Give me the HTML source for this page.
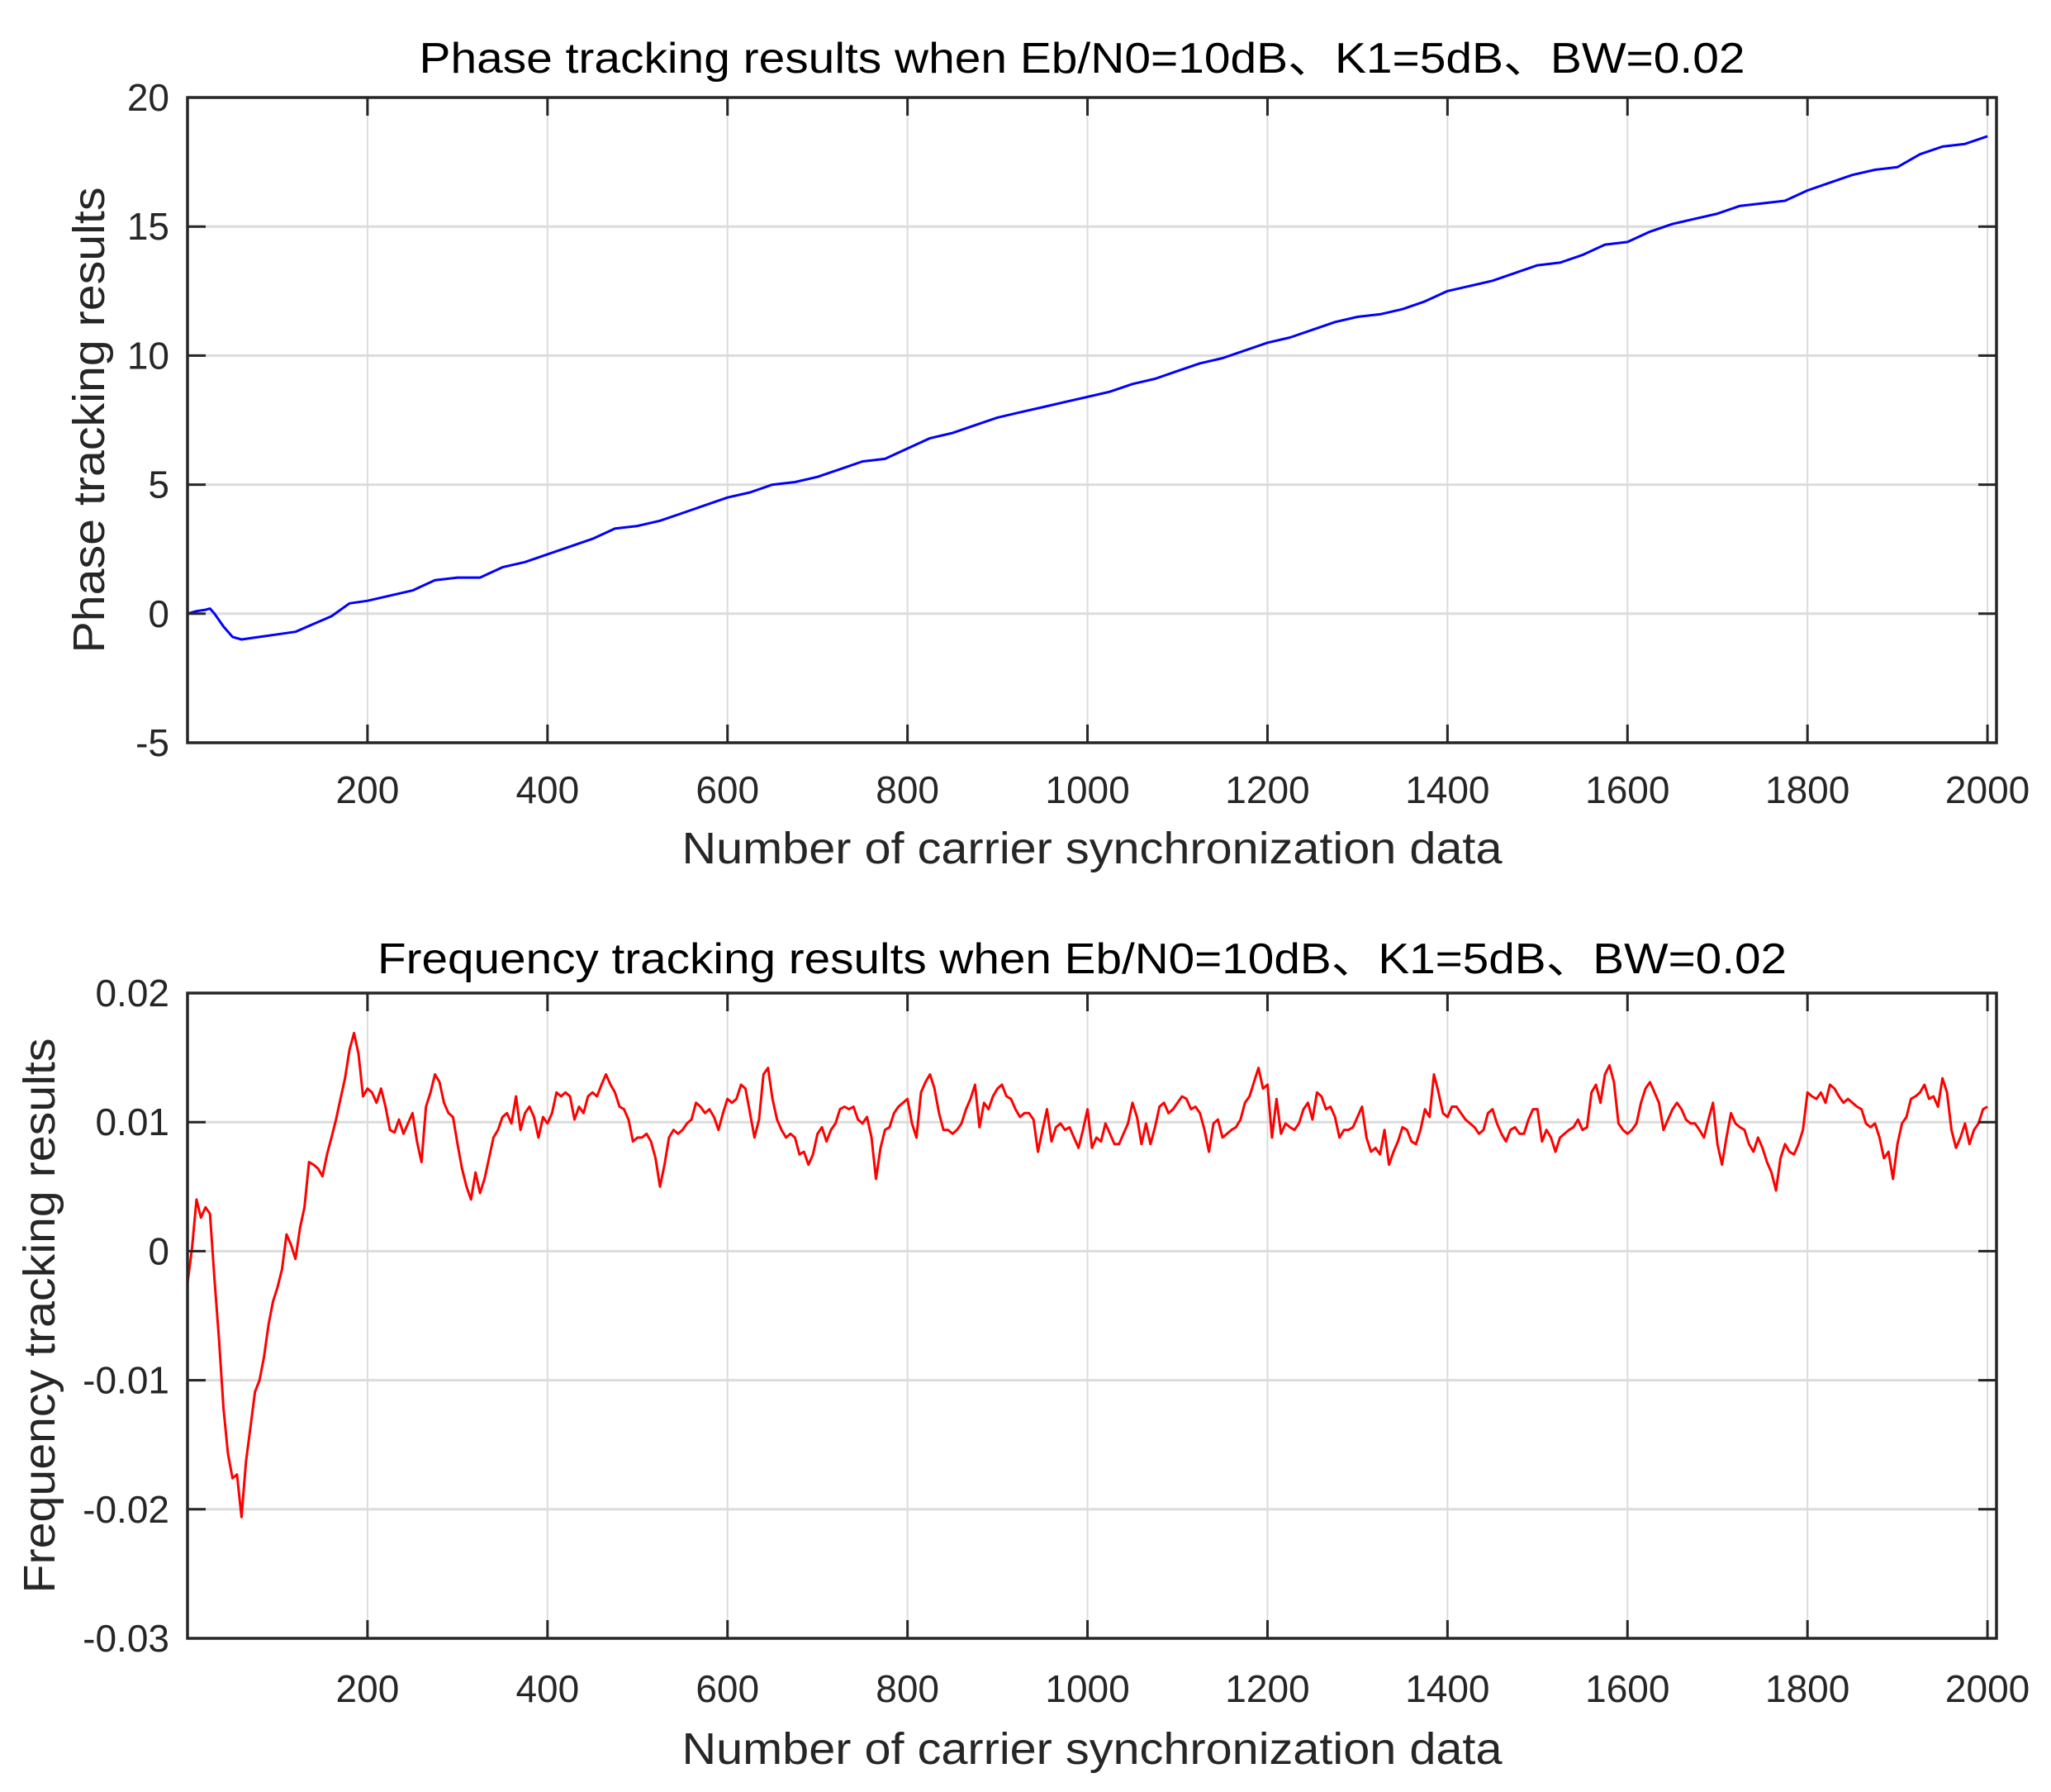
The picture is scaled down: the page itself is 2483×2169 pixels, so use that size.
<!DOCTYPE html>
<html><head><meta charset="utf-8"><style>
html,body{margin:0;padding:0;background:#fff;}
svg{display:block;font-family:"Liberation Sans","Noto Sans CJK SC",sans-serif;}
</style></head><body>
<svg id="fig" width="2483" height="2169" viewBox="0 0 2483 2169" xmlns="http://www.w3.org/2000/svg">
<rect width="2483" height="2169" fill="#fff"/>
<g id="top"></g>
<g id="bot"></g>
</svg>
<script>
const xTicks=[200,400,600,800,1000,1200,1400,1600,1800,2000];
const phaseTicks=[-5,0,5,10,15,20];
const phaseTickLabels=["-5","0","5","10","15","20"];
const freqTicks=[-0.03,-0.02,-0.01,0,0.01,0.02];
const freqTickLabels=["-0.03","-0.02","-0.01","0","0.01","0.02"];
const phaseX=[0,10,20,25,30,40,50,60,80,100,120,140,160,180,200,225,250,275,300,325,350,375,400,425,450,475,500,525,550,575,600,625,650,675,700,725,750,775,800,825,850,875,900,925,950,975,1000,1025,1050,1075,1100,1125,1150,1175,1200,1225,1250,1275,1300,1325,1350,1375,1400,1425,1450,1475,1500,1525,1550,1575,1600,1625,1650,1675,1700,1725,1750,1775,1800,1825,1850,1875,1900,1925,1950,1975,2000];
const phaseY=[0,0.1,0.15,0.2,0,-0.5,-0.9,-1.0,-0.9,-0.8,-0.7,-0.4,-0.1,0.4,0.5,0.7,0.9,1.3,1.4,1.4,1.8,2.0,2.3,2.6,2.9,3.3,3.4,3.6,3.9,4.2,4.5,4.7,5.0,5.1,5.3,5.6,5.9,6.0,6.4,6.8,7.0,7.3,7.6,7.8,8.0,8.2,8.4,8.6,8.9,9.1,9.4,9.7,9.9,10.2,10.5,10.7,11.0,11.3,11.5,11.6,11.8,12.1,12.5,12.7,12.9,13.2,13.5,13.6,13.9,14.3,14.4,14.8,15.1,15.3,15.5,15.8,15.9,16.0,16.4,16.7,17.0,17.2,17.3,17.8,18.1,18.2,18.5];
// frequency values (x1e-3), sampled every 5 points from 0 to 2000
const freqStep=5;
const freqY=[-2.5,0.2,4,2.6,3.4,2.9,-2.2,-6.8,-12.2,-15.7,-17.6,-17.3,-20.6,-16.3,-13.6,-10.9,-10,-8.2,-5.7,-3.9,-2.8,-1.4,1.3,0.5,-0.6,1.8,3.4,6.9,6.7,6.4,5.8,7.5,8.8,10.2,11.8,13.4,15.6,16.9,15.3,12,12.6,12.3,11.5,12.6,11.2,9.4,9.2,10.2,9.1,9.9,10.7,8.5,6.9,11.2,12.3,13.7,13.1,11.5,10.7,10.4,8.3,6.4,5,4,6.1,4.5,5.6,7.2,8.8,9.4,10.4,10.7,9.9,12,9.4,10.7,11.2,10.4,8.8,10.4,9.9,10.7,12.3,12,12.3,12,10.2,11.2,10.7,12,12.3,12,12.9,13.7,12.9,12.3,11.2,11,10.2,8.5,8.8,8.8,9.1,8.5,7.2,5,6.7,8.8,9.4,9.1,9.4,9.9,10.2,11.5,11.2,10.7,11,10.4,9.4,10.7,11.8,11.5,11.8,12.9,12.6,10.7,8.8,10.2,13.7,14.2,11.8,10.2,9.4,8.8,9.1,8.8,7.5,7.7,6.7,7.5,9.1,9.6,8.5,9.4,9.9,11,11.2,11,11.2,10.2,9.9,10.4,8.8,5.6,8,9.4,9.6,10.7,11.2,11.5,11.8,9.9,8.8,12.3,13.1,13.7,12.6,10.7,9.4,9.4,9.1,9.4,9.9,11,11.8,12.9,9.6,11.5,11,12,12.6,12.9,12,11.8,11,10.4,10.7,10.7,10.2,7.7,9.4,11,8.5,9.6,9.9,9.4,9.6,8.8,8,9.4,11,8,
8.8,8.5,9.9,9.1,8.3,8.3,9.1,9.9,11.5,10.4,8.3,9.9,8.3,9.6,11.2,11.5,10.7,11,11.5,12,11.8,11,11.2,10.7,9.4,7.7,9.9,10.2,8.8,9.1,9.4,9.6,10.2,11.5,12,13.1,14.2,12.6,12.9,8.8,11.8,9.1,9.9,9.6,9.4,9.9,11,11.5,10.2,12.3,12,11,11.2,10.4,8.8,9.4,9.4,9.6,10.4,11.2,8.8,7.7,8,7.5,9.4,6.7,7.7,8.5,9.6,9.4,8.5,8.3,9.4,11,10.4,13.7,12.3,10.7,10.4,11.2,11.2,10.7,10.2,9.9,9.6,9.1,9.4,10.7,11,9.9,9.1,8.5,9.4,9.6,9.1,9.1,10.2,11,11,8.5,9.4,8.8,7.7,8.8,9.1,9.4,9.6,10.2,9.4,9.6,12.3,12.9,11.5,13.7,14.4,13.1,9.9,9.4,9.1,9.4,9.9,11.5,12.6,13.1,12.3,11.5,9.4,10.2,11,11.5,11,10.2,9.9,9.9,9.4,8.8,10.2,11.5,8.3,6.7,8.8,10.7,9.9,9.6,9.4,8.3,7.7,8.8,8,6.9,6.1,4.7,7.2,8.3,7.7,7.5,8.3,9.4,12.3,12,11.8,12.3,11.5,12.9,12.6,12,11.5,11.8,11.5,11.2,11,9.9,9.6,9.9,8.8,7.2,7.7,5.6,8.3,9.9,10.4,11.8,12,12.3,12.9,11.8,12,11.2,13.4,12.3,9.4,8,8.8,9.9,8.3,9.4,9.9,11,11.2];

const L=227,R=2417,X0=0,X1=2010;
function sx(v){return L+(v-X0)/(X1-X0)*(R-L);}
const NS="http://www.w3.org/2000/svg";
function mk(tag,attrs,parent){const e=document.createElementNS(NS,tag);for(const k in attrs)e.setAttribute(k,attrs[k]);parent.appendChild(e);return e;}

function drawAxes(g,T,B,yMin,yMax,yTicks){
  const sy=v=>B-(v-yMin)/(yMax-yMin)*(B-T);
  xTicks.forEach(t=>{const l=mk('line',{x1:sx(t),x2:sx(t),y1:T,y2:B,stroke:'#dcdcdc','stroke-width':2},g);
    });
  yTicks.forEach(t=>{const l=mk('line',{x1:L,x2:R,y1:sy(t),y2:sy(t),stroke:'#dcdcdc','stroke-width':3},g);
    });
  return sy;
}
function drawFrame(g,T,B,yTicks,yLabels,title,titleLen,ylab,ylabLen,ylabX,titleY,xtickY,xlabY,sy){
  const box=mk('rect',{x:L,y:T,width:R-L,height:B-T,fill:'none',stroke:'#262626','stroke-width':3.5},g);
  
  xTicks.forEach(t=>{
    mk('line',{x1:sx(t),x2:sx(t),y1:B,y2:B-22,stroke:'#262626','stroke-width':3},g);
    mk('line',{x1:sx(t),x2:sx(t),y1:T,y2:T+22,stroke:'#262626','stroke-width':3},g);
    const tx=mk('text',{x:sx(t),y:xtickY,'font-size':46,'text-anchor':'middle',fill:'#262626'},g);
    tx.textContent=String(t);
    
  });
  yTicks.forEach((t,i)=>{
    mk('line',{x1:L,x2:L+22,y1:sy(t),y2:sy(t),stroke:'#262626','stroke-width':3},g);
    mk('line',{x1:R,x2:R-22,y1:sy(t),y2:sy(t),stroke:'#262626','stroke-width':3},g);
    const tx=mk('text',{x:205,y:sy(t)+16,'font-size':46,'text-anchor':'end',fill:'#262626'},g);
    tx.textContent=yLabels[i];
    
  });
  const tt=mk('text',{x:(L+R)/2-12,y:titleY,'font-size':52,'text-anchor':'middle',fill:'#000',textLength:titleLen,lengthAdjust:'spacingAndGlyphs'},g);
  tt.textContent=title;
  const xl=mk('text',{x:(L+R)/2,y:xlabY,'font-size':54,'text-anchor':'middle',fill:'#262626',textLength:993,lengthAdjust:'spacingAndGlyphs'},g);
  xl.textContent='Number of carrier synchronization data';
  const cy=(T+B)/2;
  const yl=mk('text',{x:ylabX,y:cy,'font-size':54,'text-anchor':'middle',fill:'#262626',transform:`rotate(-90 ${ylabX} ${cy})`,textLength:ylabLen,lengthAdjust:'spacingAndGlyphs'},g);
  yl.textContent=ylab;
}

const gT=document.getElementById('top');
const syT=drawAxes(gT,118,899,-5,20,phaseTicks);
let d='';phaseX.forEach((x,i)=>{d+=(i?'L':'M')+sx(x).toFixed(1)+' '+syT(phaseY[i]).toFixed(1);});
const p1=mk('path',{d:d,fill:'none',stroke:'#0000ff','stroke-width':3,'stroke-linejoin':'round'},gT);


drawFrame(gT,118,899,phaseTicks,phaseTickLabels,'Phase tracking results when Eb/N0=10dB、K1=5dB、BW=0.02',1605,'Phase tracking results',564,126,88,972,1045,syT);

const gB=document.getElementById('bot');
const syB=drawAxes(gB,1202,1983,-0.03,0.02,freqTicks);
let d2='';freqY.forEach((v,i)=>{d2+=(i?'L':'M')+sx(i*freqStep).toFixed(1)+' '+syB(v/1000).toFixed(1);});
const p2=mk('path',{d:d2,fill:'none',stroke:'#ff0000','stroke-width':3,'stroke-linejoin':'round'},gB);


drawFrame(gB,1202,1983,freqTicks,freqTickLabels,'Frequency tracking results when Eb/N0=10dB、K1=5dB、BW=0.02',1706,'Frequency tracking results',672,66,1178,2060,2135,syB);
</script>
</body></html>
